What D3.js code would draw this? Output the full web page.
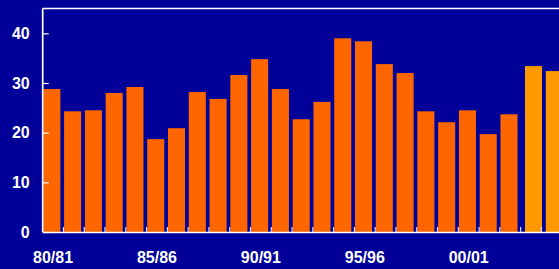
<!DOCTYPE html>
<html>
<head>
<meta charset="utf-8">
<script src="https://cdn.jsdelivr.net/npm/d3@7/dist/d3.min.js"></script>
<style>
html,body{margin:0;padding:0;background:#000099;overflow:hidden;}
svg{display:block;}
</style>
</head>
<body>
<svg id="chart" width="559" height="269"></svg>
<script>
const categories = ["80/81","81/82","82/83","83/84","84/85","85/86","86/87","87/88","88/89","89/90",
  "90/91","91/92","92/93","93/94","94/95","95/96","96/97","97/98","98/99","99/00",
  "00/01","01/02","02/03","03/04","04/05"];
const actualValues = [28.8,24.3,24.5,28.0,29.2,18.7,20.9,28.2,26.8,31.6,
  34.8,28.8,22.7,26.2,39.0,38.4,33.8,32.0,24.3,22.1,
  24.5,19.7,23.7,null,null];
const forecastValues = [null,null,null,null,null,null,null,null,null,null,
  null,null,null,null,null,null,null,null,null,null,
  null,null,null,33.4,32.4];
const xTickLabels = ["80/81","85/86","90/91","95/96","00/01"];
const yTicks = [0,10,20,30,40];

const W = 559, H = 269;
const svg = d3.select("#chart");
svg.append("rect").attr("width",W).attr("height",H).attr("fill","#000099");

const left = 42.7, step = 20.78;
const x = d3.scaleBand().domain(categories).range([left, left + step*categories.length]).padding(0);
const y = d3.scaleLinear().domain([0,45]).range([232, 8.5]);

const bw = x.bandwidth();
const barW = bw*0.82;

svg.append("g").selectAll("rect").data(categories.map((c,i)=>({c,v:actualValues[i]})).filter(d=>d.v!=null))
  .join("rect")
  .attr("x", d=>x(d.c)+bw*0.03)
  .attr("width", barW)
  .attr("y", d=>y(d.v))
  .attr("height", d=>y(0)-y(d.v))
  .attr("fill","#FF6600");

svg.append("g").selectAll("rect").data(categories.map((c,i)=>({c,v:forecastValues[i]})).filter(d=>d.v!=null))
  .join("rect")
  .attr("x", d=>x(d.c)+bw*0.21)
  .attr("width", barW)
  .attr("y", d=>y(d.v))
  .attr("height", d=>y(0)-y(d.v))
  .attr("fill","#FF9900");

// frame lines
const frame = svg.append("g").attr("stroke","#ffffff").attr("stroke-width",1.7).attr("fill","none");
frame.append("line").attr("x1",x.range()[0]).attr("x2",W+5).attr("y1",y(45)).attr("y2",y(45));
frame.append("line").attr("x1",x.range()[0]).attr("x2",x.range()[0]).attr("y1",y(45)).attr("y2",y(0));

// y axis
const yAxis = d3.axisLeft(y).tickValues(yTicks).tickSize(-6).tickPadding(13).tickFormat(d3.format("d"));
const gy = svg.append("g").attr("transform",`translate(${x.range()[0]},0)`).call(yAxis);
gy.select(".domain").remove();
gy.selectAll(".tick line").attr("stroke","#ffffff").attr("stroke-width",1.2);
gy.selectAll("text").attr("fill","#ffffff").attr("font-family","'Liberation Sans', Arial, sans-serif")
  .attr("font-weight","bold").attr("font-size","16px");

// x axis
const gx = svg.append("g").attr("transform",`translate(0,${y(0)})`);
gx.append("line").attr("x1",x.range()[0]).attr("x2",W+5).attr("y1",0.5).attr("y2",0.5)
  .attr("stroke","#ffffff").attr("stroke-width",1.7);
gx.selectAll("line.tk").data(categories.slice(1)).join("line").attr("class","tk")
  .attr("x1",d=>x(d)).attr("x2",d=>x(d)).attr("y1",0).attr("y2",-5)
  .attr("stroke","#ddddff").attr("stroke-width",1.2);
gx.selectAll("text").data(xTickLabels).join("text")
  .attr("x",d=>x(d)+bw/2).attr("y",31)
  .attr("text-anchor","middle").attr("fill","#ffffff")
  .attr("font-family","'Liberation Sans', Arial, sans-serif")
  .attr("font-weight","bold").attr("font-size","16px")
  .text(d=>d);
</script>
</body>
</html>
